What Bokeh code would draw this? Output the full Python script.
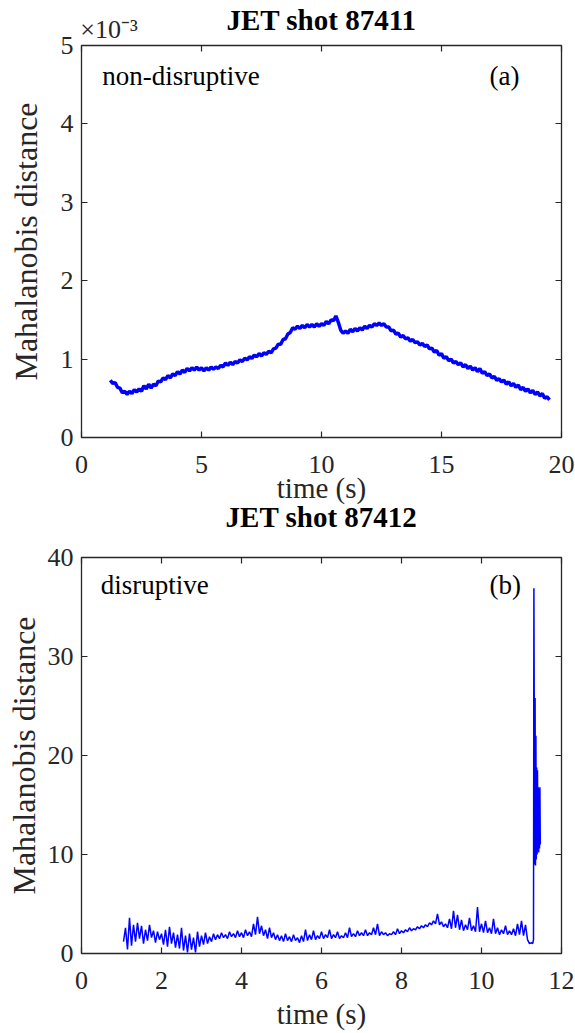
from bokeh.plotting import figure
from bokeh.models import Range1d, LinearAxis, Label, FixedTicker
from bokeh.layouts import column
from bokeh.embed import file_html
from bokeh.resources import INLINE

# ---------------- data ----------------
# Panel (a): JET shot 87411 (values in units of 1e-3)
t_a = [1.2, 1.3, 1.4, 1.5, 1.6, 1.7, 1.8, 1.9, 2.0, 2.1,
       2.2, 2.3, 2.4, 2.5, 2.6, 2.7, 2.8, 2.9, 3.0, 3.1,
       3.2, 3.3, 3.4, 3.5, 3.6, 3.7, 3.8, 3.9, 4.0, 4.1,
       4.2, 4.3, 4.4, 4.5, 4.6, 4.7, 4.8, 4.9, 5.0, 5.1,
       5.2, 5.3, 5.4, 5.5, 5.6, 5.7, 5.8, 5.9, 6.0, 6.1,
       6.2, 6.3, 6.4, 6.5, 6.6, 6.7, 6.8, 6.9, 7.0, 7.1,
       7.2, 7.3, 7.4, 7.5, 7.6, 7.7, 7.8, 7.9, 8.0, 8.1,
       8.2, 8.3, 8.4, 8.5, 8.6, 8.7, 8.8, 8.9, 9.0, 9.1,
       9.2, 9.3, 9.4, 9.5, 9.6, 9.7, 9.8, 9.9, 10.0, 10.1,
       10.2, 10.3, 10.4, 10.5, 10.6, 10.7, 10.8, 10.9, 11.0, 11.1,
       11.2, 11.3, 11.4, 11.5, 11.6, 11.7, 11.8, 11.9, 12.0, 12.1,
       12.2, 12.3, 12.4, 12.5, 12.6, 12.7, 12.8, 12.9, 13.0, 13.1,
       13.2, 13.3, 13.4, 13.5, 13.6, 13.7, 13.8, 13.9, 14.0, 14.1,
       14.2, 14.3, 14.4, 14.5, 14.6, 14.7, 14.8, 14.9, 15.0, 15.1,
       15.2, 15.3, 15.4, 15.5, 15.6, 15.7, 15.8, 15.9, 16.0, 16.1,
       16.2, 16.3, 16.4, 16.5, 16.6, 16.7, 16.8, 16.9, 17.0, 17.1,
       17.2, 17.3, 17.4, 17.5, 17.6, 17.7, 17.8, 17.9, 18.0, 18.1,
       18.2, 18.3, 18.4, 18.5, 18.6, 18.7, 18.8, 18.9, 19.0, 19.1,
       19.2, 19.3, 19.4, 19.5]
md_a = [0.73, 0.69, 0.70, 0.64, 0.63, 0.57, 0.59, 0.55, 0.59, 0.56,
        0.61, 0.58, 0.62, 0.59, 0.66, 0.62, 0.68, 0.63, 0.68, 0.66,
        0.72, 0.71, 0.76, 0.74, 0.79, 0.76, 0.81, 0.79, 0.84, 0.81,
        0.86, 0.83, 0.88, 0.85, 0.89, 0.86, 0.90, 0.86, 0.89, 0.85,
        0.89, 0.86, 0.90, 0.87, 0.90, 0.88, 0.92, 0.90, 0.95, 0.92,
        0.96, 0.93, 0.97, 0.95, 0.99, 0.97, 1.01, 0.99, 1.03, 1.01,
        1.05, 1.03, 1.07, 1.04, 1.08, 1.06, 1.10, 1.08, 1.13, 1.14,
        1.19, 1.19, 1.25, 1.26, 1.32, 1.34, 1.40, 1.38, 1.42, 1.39,
        1.43, 1.40, 1.44, 1.41, 1.44, 1.41, 1.45, 1.42, 1.45, 1.43,
        1.48, 1.45, 1.50, 1.49, 1.55, 1.47, 1.37, 1.33, 1.36, 1.33,
        1.38, 1.35, 1.39, 1.36, 1.40, 1.37, 1.42, 1.39, 1.43, 1.41,
        1.45, 1.43, 1.46, 1.43, 1.45, 1.41, 1.41, 1.36, 1.37, 1.32,
        1.33, 1.28, 1.30, 1.26, 1.27, 1.23, 1.25, 1.21, 1.22, 1.18,
        1.20, 1.16, 1.18, 1.13, 1.14, 1.09, 1.11, 1.05, 1.07, 1.01,
        1.03, 0.98, 1.00, 0.95, 0.97, 0.93, 0.95, 0.90, 0.93, 0.88,
        0.91, 0.86, 0.89, 0.84, 0.88, 0.82, 0.84, 0.79, 0.81, 0.76,
        0.78, 0.73, 0.75, 0.71, 0.73, 0.68, 0.71, 0.66, 0.69, 0.64,
        0.67, 0.61, 0.64, 0.59, 0.62, 0.57, 0.60, 0.55, 0.58, 0.53,
        0.56, 0.50, 0.52, 0.48]

# Panel (b): JET shot 87412
t_b = [1.05, 1.10, 1.15, 1.20, 1.25, 1.30, 1.35, 1.40, 1.45, 1.50,
       1.55, 1.60, 1.65, 1.70, 1.75, 1.80, 1.85, 1.90, 1.95, 2.00,
       2.05, 2.10, 2.15, 2.20, 2.25, 2.30, 2.35, 2.40, 2.45, 2.50,
       2.55, 2.60, 2.65, 2.70, 2.75, 2.80, 2.85, 2.90, 2.95, 3.00,
       3.05, 3.10, 3.15, 3.20, 3.25, 3.30, 3.35, 3.40, 3.45, 3.50,
       3.55, 3.60, 3.65, 3.70, 3.75, 3.80, 3.85, 3.90, 3.95, 4.00,
       4.05, 4.10, 4.15, 4.20, 4.25, 4.30, 4.35, 4.40, 4.45, 4.50,
       4.55, 4.60, 4.65, 4.70, 4.75, 4.80, 4.85, 4.90, 4.95, 5.00,
       5.05, 5.10, 5.15, 5.20, 5.25, 5.30, 5.35, 5.40, 5.45, 5.50,
       5.55, 5.60, 5.65, 5.70, 5.75, 5.80, 5.85, 5.90, 5.95, 6.00,
       6.05, 6.10, 6.15, 6.20, 6.25, 6.30, 6.35, 6.40, 6.45, 6.50,
       6.55, 6.60, 6.65, 6.70, 6.75, 6.80, 6.85, 6.90, 6.95, 7.00,
       7.05, 7.10, 7.15, 7.20, 7.25, 7.30, 7.35, 7.40, 7.45, 7.50,
       7.55, 7.60, 7.65, 7.70, 7.75, 7.80, 7.85, 7.90, 7.95, 8.00,
       8.05, 8.10, 8.15, 8.20, 8.25, 8.30, 8.35, 8.40, 8.45, 8.50,
       8.55, 8.60, 8.65, 8.70, 8.75, 8.80, 8.85, 8.90, 8.95, 9.00,
       9.05, 9.10, 9.15, 9.20, 9.25, 9.30, 9.35, 9.40, 9.45, 9.50,
       9.55, 9.60, 9.65, 9.70, 9.75, 9.80, 9.85, 9.90, 9.95, 10.00,
       10.05, 10.10, 10.15, 10.20, 10.25, 10.30, 10.35, 10.40, 10.45, 10.50,
       10.55, 10.60, 10.65, 10.70, 10.75, 10.80, 10.85, 10.90, 10.95, 11.00,
       11.05, 11.10, 11.15, 11.20, 11.25,
       11.28, 11.30, 11.31, 11.33, 11.34, 11.35, 11.36, 11.37, 11.38, 11.39,
       11.40, 11.41, 11.42, 11.43, 11.44, 11.45, 11.46, 11.47]
md_b = [1.2, 2.6, 0.4, 3.6, 0.8, 2.9, 1.2, 3.1, 1.5, 2.8,
        1.0, 2.4, 1.3, 2.9, 1.6, 2.3, 1.1, 2.2, 1.4, 2.0,
        0.9, 2.4, 0.7, 2.7, 1.0, 2.1, 0.6, 1.9, 0.5, 2.6,
        0.3, 1.8, 0.1, 2.0, 0.4, 1.6, 0.1, 2.2, 0.7, 1.8,
        0.9, 2.1, 1.0, 1.7, 1.2, 2.0, 1.4, 1.9, 1.5, 2.1,
        1.6, 1.9, 1.5, 2.2, 1.7, 2.0, 1.6, 2.3, 1.7, 2.1,
        1.6, 2.4, 1.8, 2.2, 1.7, 3.0, 1.9, 3.7, 2.0, 2.8,
        1.8, 2.4, 1.5, 2.6, 1.6, 2.1, 1.4, 1.9, 1.3, 1.8,
        1.2, 2.0, 1.3, 1.7, 1.2, 1.9, 1.3, 1.6, 1.1, 1.8,
        1.2, 2.4, 1.3, 1.9, 1.4, 2.3, 1.4, 1.8, 1.5, 2.2,
        1.5, 1.9, 1.6, 2.4, 1.5, 1.9, 1.6, 2.2, 1.5, 1.8,
        1.6, 2.1, 1.6, 2.6, 1.7, 2.0, 1.7, 2.3, 1.8, 2.1,
        1.8, 2.4, 1.8, 2.1, 1.9, 2.6, 1.9, 3.0, 1.8, 2.2,
        1.9, 2.1, 1.8, 2.0, 1.9, 2.2, 1.9, 2.5, 2.0, 2.3,
        2.1, 2.4, 2.2, 2.6, 2.3, 2.5, 2.4, 2.7, 2.5, 2.8,
        2.6, 2.9, 2.7, 3.1, 2.9, 3.3, 3.0, 4.0, 2.9, 3.2,
        2.7, 3.0, 2.6, 3.5, 2.5, 4.3, 2.6, 3.9, 2.4, 3.4,
        2.3, 2.9, 2.4, 3.6, 2.3, 2.8, 2.2, 4.7, 2.2, 3.0,
        2.1, 3.3, 2.1, 2.6, 2.0, 3.5, 2.0, 2.6, 1.9, 2.4,
        2.0, 2.8, 1.9, 2.3, 1.9, 2.5, 1.8, 3.0, 1.9, 3.3,
        1.8, 2.9, 1.4, 1.0, 1.1,
        1.0, 1.4, 36.9, 9.0, 25.8, 8.9, 22.0, 9.5, 18.8, 10.0,
        18.5, 10.4, 16.8, 10.2, 16.6, 10.6, 16.8, 11.0]

xticks_a = [0, 5, 10, 15, 20]
yticks_a = [0, 1, 2, 3, 4, 5]
xticks_b = [0, 2, 4, 6, 8, 10, 12]
yticks_b = [0, 10, 20, 30, 40]

FONT = "Liberation Serif"
INK = "#262626"
BLUE = "#0000ff"


def tick_only_axis(ticks):
    return LinearAxis(ticker=FixedTicker(ticks=ticks), axis_line_color=None,
                      major_tick_in=6, major_tick_out=0, major_tick_line_color=INK,
                      major_tick_line_width=1.2, minor_tick_line_color=None,
                      major_label_text_color=None, major_label_text_font_size="1px",
                      major_label_standoff=0)


def text_axis(title, ticks, overrides, label_color, label_size, label_standoff, title_standoff):
    return LinearAxis(ticker=FixedTicker(ticks=ticks), axis_line_color=None,
                      major_tick_line_color=None, minor_tick_line_color=None,
                      major_tick_in=0, major_tick_out=0,
                      major_label_overrides=overrides,
                      major_label_text_font=FONT, major_label_text_font_size=label_size,
                      major_label_text_color=label_color,
                      major_label_standoff=label_standoff,
                      axis_label=title, axis_label_text_font=FONT,
                      axis_label_text_font_size="29px", axis_label_text_font_style="bold",
                      axis_label_text_color="black", axis_label_standoff=title_standoff)


def make_panel(xr, yr, xt, yt, height, top, bottom, ylab_standoff, xlab_standoff):
    p = figure(width=575, height=height, x_range=Range1d(*xr), y_range=Range1d(*yr),
               output_backend="svg", toolbar_location=None,
               min_border_left=81, min_border_right=14,
               min_border_top=top, min_border_bottom=bottom)
    p.xgrid.visible = False
    p.ygrid.visible = False
    p.outline_line_color = INK
    p.outline_line_width = 1.3
    p.background_fill_color = "white"
    p.border_fill_color = "white"

    p.xaxis.ticker = FixedTicker(ticks=xt)
    p.yaxis.ticker = FixedTicker(ticks=yt)
    for ax in (p.xaxis[0], p.yaxis[0]):
        ax.axis_line_color = None
        ax.major_tick_in = 6
        ax.major_tick_out = 0
        ax.major_tick_line_color = INK
        ax.major_tick_line_width = 1.2
        ax.minor_tick_line_color = None
        ax.major_label_text_font = FONT
        ax.major_label_text_font_size = "26px"
        ax.major_label_text_color = INK
        ax.axis_label_text_font = FONT
        ax.axis_label_text_font_style = "normal"
        ax.axis_label_text_color = INK
    p.xaxis.axis_label = "time (s)"
    p.xaxis.axis_label_text_font_size = "29px"
    p.xaxis.major_label_standoff = 18
    p.xaxis.axis_label_standoff = xlab_standoff
    p.yaxis.axis_label = "Mahalanobis distance"
    p.yaxis.axis_label_text_font_size = "32px"
    p.yaxis.major_label_standoff = 8
    p.yaxis.axis_label_standoff = ylab_standoff

    p.add_layout(tick_only_axis(xt), "above")
    p.add_layout(tick_only_axis(yt), "right")
    return p


# ---- panel (a) ----
p1 = make_panel((0, 20), (0, 5), xticks_a, yticks_a,
                height=536, top=41, bottom=99, ylab_standoff=14, xlab_standoff=-4)
# title of (a) with the x10^-3 multiplier on the same row
p1.add_layout(text_axis("JET shot 87411", [1.15], {1.15: "\u00d710\u207b\u00b3"},
                        INK, "26px", 2, -24), "above")
# title of (b), placed just under the time axis of (a)
p1.add_layout(text_axis("JET shot 87412", [0], {}, None, "1px", 0, -6), "below")
p1.line(t_a, md_a, line_color=BLUE, line_width=3.5)
p1.add_layout(Label(x=0.86, y=4.61, text="non-disruptive", text_font=FONT,
                    text_font_size="27px", text_color="black", text_baseline="alphabetic"))
p1.add_layout(Label(x=17.0, y=4.61, text="(a)", text_font=FONT,
                    text_font_size="27px", text_color="black", text_baseline="alphabetic"))

# ---- panel (b) ----
p2 = make_panel((0, 12), (0, 40), xticks_b, yticks_b,
                height=497, top=21, bottom=80, ylab_standoff=3, xlab_standoff=6)
p2.line(t_b, md_b, line_color=BLUE, line_width=1.5)
p2.add_layout(Label(x=0.48, y=37.2, text="disruptive", text_font=FONT,
                    text_font_size="27px", text_color="black", text_baseline="alphabetic"))
p2.add_layout(Label(x=10.2, y=37.2, text="(b)", text_font=FONT,
                    text_font_size="27px", text_color="black", text_baseline="alphabetic"))

layout = column(p1, p2, spacing=0)
open("out.html", "w").write(file_html(layout, INLINE))
